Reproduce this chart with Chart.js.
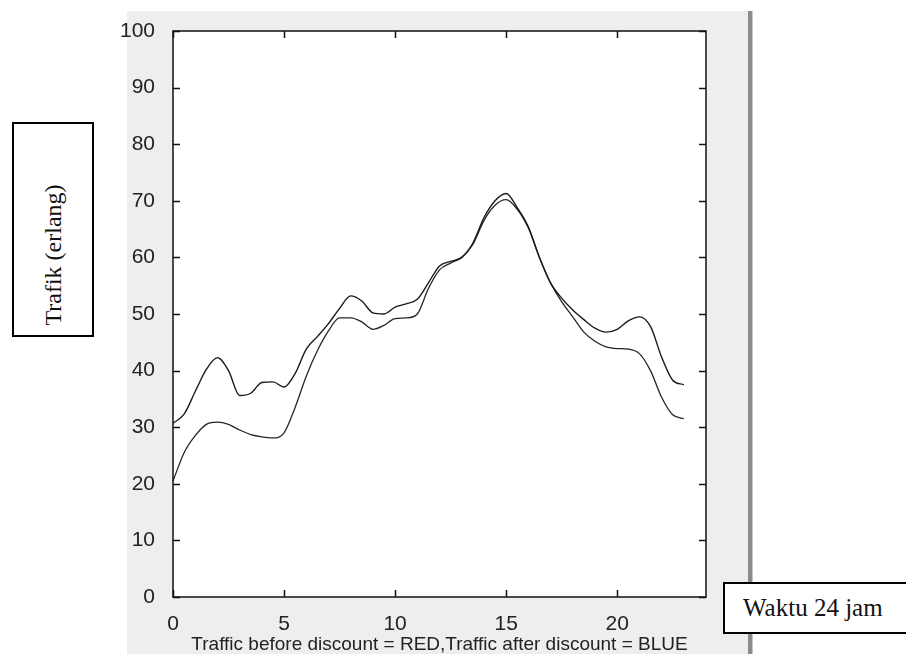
<!DOCTYPE html>
<html>
<head>
<meta charset="utf-8">
<script src="https://cdn.jsdelivr.net/npm/chart.js@4.4.1/dist/chart.umd.min.js"></script>
<style>
  html, body { margin: 0; padding: 0; background: #fff; overflow: hidden; }
  #wrap { position: relative; width: 906px; height: 654px; overflow: hidden; }
  #figure { position: absolute; left: 127px; top: 11px; width: 621px; height: 643px; background: #eeeeee; }
  #divider { position: absolute; left: 748px; top: 11px; width: 4px; height: 643px; background: #8c8c8c; border-right: 1px solid #c8c8c8; }
  #chart { position: absolute; left: 0; top: 0; }
  .box { position: absolute; background: #fff; border: 2px solid #000; box-sizing: border-box;
         font-family: "Liberation Serif", "Times New Roman", serif; color: #111; }
  #ylab { left: 12px; top: 122px; width: 82px; height: 215px; font-size: 24px; }
  #ylab span { position: absolute; left: 50%; top: 62%; transform: translate(-50%, -50%) rotate(-90deg); white-space: nowrap; }
  #xlab { left: 723px; top: 582px; width: 183px; height: 52px; line-height: 48px; padding-left: 18px; font-size: 25px; border-right: none; }
</style>
</head>
<body>
<div id="wrap">
  <div id="figure"></div>
  <div id="divider"></div>
  <canvas id="chart" width="906" height="654"></canvas>
  <div class="box" id="ylab"><span>Trafik (erlang)</span></div>
  <div class="box" id="xlab">Waktu 24 jam</div>
</div>
<script>
// hour of day, sampled every half hour
const hours = [0, 0.5, 1, 1.5, 2, 2.5, 3, 3.5, 4, 4.5, 5, 5.5, 6, 6.5, 7, 7.5, 8, 8.5, 9, 9.5,
  10, 10.5, 11, 11.5, 12, 12.5, 13, 13.5, 14, 14.5, 15, 15.5, 16, 16.5, 17, 17.5, 18, 18.5, 19, 19.5,
  20, 20.5, 21, 21.5, 22, 22.5, 23];

// traffic before discount (erlang)
const trafficBefore = [30.7, 32.3, 36.3, 40.2, 42.3, 40.0, 35.6, 36.0, 37.9, 38.0, 37.1, 39.5,
  43.8, 46.0, 48.3, 51.0, 53.2, 52.3, 50.2, 50.0, 51.2, 51.8, 52.6, 55.5, 58.5, 59.3, 60.0, 62.5,
  67.0, 70.0, 71.3, 68.8, 65.4, 60.0, 55.5, 52.8, 50.7, 49.0, 47.5, 46.8, 47.3, 48.8, 49.5, 47.8,
  42.4, 38.3, 37.5];

// traffic after discount (erlang)
const trafficAfter = [20.5, 25.5, 28.5, 30.5, 30.9, 30.5, 29.5, 28.7, 28.3, 28.1, 29.0, 33.5,
  39.0, 43.5, 47.0, 49.3, 49.3, 48.6, 47.3, 48.0, 49.2, 49.3, 50.0, 54.5, 57.8, 59.0, 60.0, 62.3,
  66.5, 69.2, 70.2, 68.5, 65.2, 60.0, 55.5, 52.2, 49.5, 46.8, 45.2, 44.2, 43.9, 43.8, 43.0, 40.0,
  35.3, 32.2, 31.5];

const xTicks = [0, 5, 10, 15, 20];
const yTicks = [0, 10, 20, 30, 40, 50, 60, 70, 80, 90, 100];

const toPoints = (ys) => hours.map((h, i) => ({ x: h, y: ys[i] }));

// white axes background, box outline and inward tick marks like a MATLAB axes
const axesBox = {
  id: 'axesBox',
  beforeDraw(chart) {
    const { ctx, chartArea: a } = chart;
    ctx.save();
    ctx.fillStyle = '#ffffff';
    ctx.fillRect(a.left, a.top, a.right - a.left, a.bottom - a.top);
    ctx.restore();
  },
  afterDatasetsDraw(chart) {
    const { ctx, chartArea: a, scales } = chart;
    const len = 7;
    ctx.save();
    ctx.strokeStyle = '#111';
    ctx.lineWidth = 1.5;
    ctx.strokeRect(a.left, a.top, a.right - a.left, a.bottom - a.top);
    ctx.beginPath();
    xTicks.forEach(v => {
      const px = Math.round(scales.x.getPixelForValue(v)) + 0.5;
      ctx.moveTo(px, a.bottom); ctx.lineTo(px, a.bottom - len);
      ctx.moveTo(px, a.top); ctx.lineTo(px, a.top + len);
    });
    yTicks.forEach(v => {
      const py = Math.round(scales.y.getPixelForValue(v)) + 0.5;
      ctx.moveTo(a.left, py); ctx.lineTo(a.left + len, py);
      ctx.moveTo(a.right, py); ctx.lineTo(a.right - len, py);
    });
    ctx.stroke();
    ctx.restore();
  }
};

const tickFont = { family: '"Liberation Sans", Arial, sans-serif', size: 21 };

new Chart(document.getElementById('chart'), {
  type: 'line',
  data: {
    datasets: [
      {
        label: 'Traffic before discount',
        data: toPoints(trafficBefore),
        borderColor: '#1a1a1a',
        borderWidth: 1.4,
        pointRadius: 0,
        cubicInterpolationMode: 'monotone'
      },
      {
        label: 'Traffic after discount',
        data: toPoints(trafficAfter),
        borderColor: '#262626',
        borderWidth: 1.3,
        pointRadius: 0,
        cubicInterpolationMode: 'monotone'
      }
    ]
  },
  options: {
    responsive: false,
    animation: false,
    events: [],
    layout: { padding: { left: 0, top: 31, right: 200, bottom: 0 } },
    plugins: { legend: { display: false }, tooltip: { enabled: false } },
    scales: {
      x: {
        type: 'linear',
        min: 0,
        max: 24,
        grid: { display: false },
        border: { display: false },
        afterBuildTicks: (scale) => { scale.ticks = xTicks.map(v => ({ value: v })); },
        afterFit: (scale) => { scale.height = 57; },
        ticks: { color: '#222', font: tickFont, padding: 7, maxRotation: 0 },
        title: {
          display: true,
          text: 'Traffic before discount = RED,Traffic after discount = BLUE',
          color: '#222',
          font: { family: '"Liberation Sans", Arial, sans-serif', size: 19, lineHeight: 1.0 },
          padding: { top: 0, bottom: 0 }
        }
      },
      y: {
        min: 0,
        max: 100,
        grid: { display: false },
        border: { display: false },
        afterBuildTicks: (scale) => { scale.ticks = yTicks.map(v => ({ value: v })); },
        afterFit: (scale) => { scale.width = 173; },
        ticks: { color: '#222', font: tickFont, padding: 10 }
      }
    }
  },
  plugins: [axesBox]
});
</script>
</body>
</html>
